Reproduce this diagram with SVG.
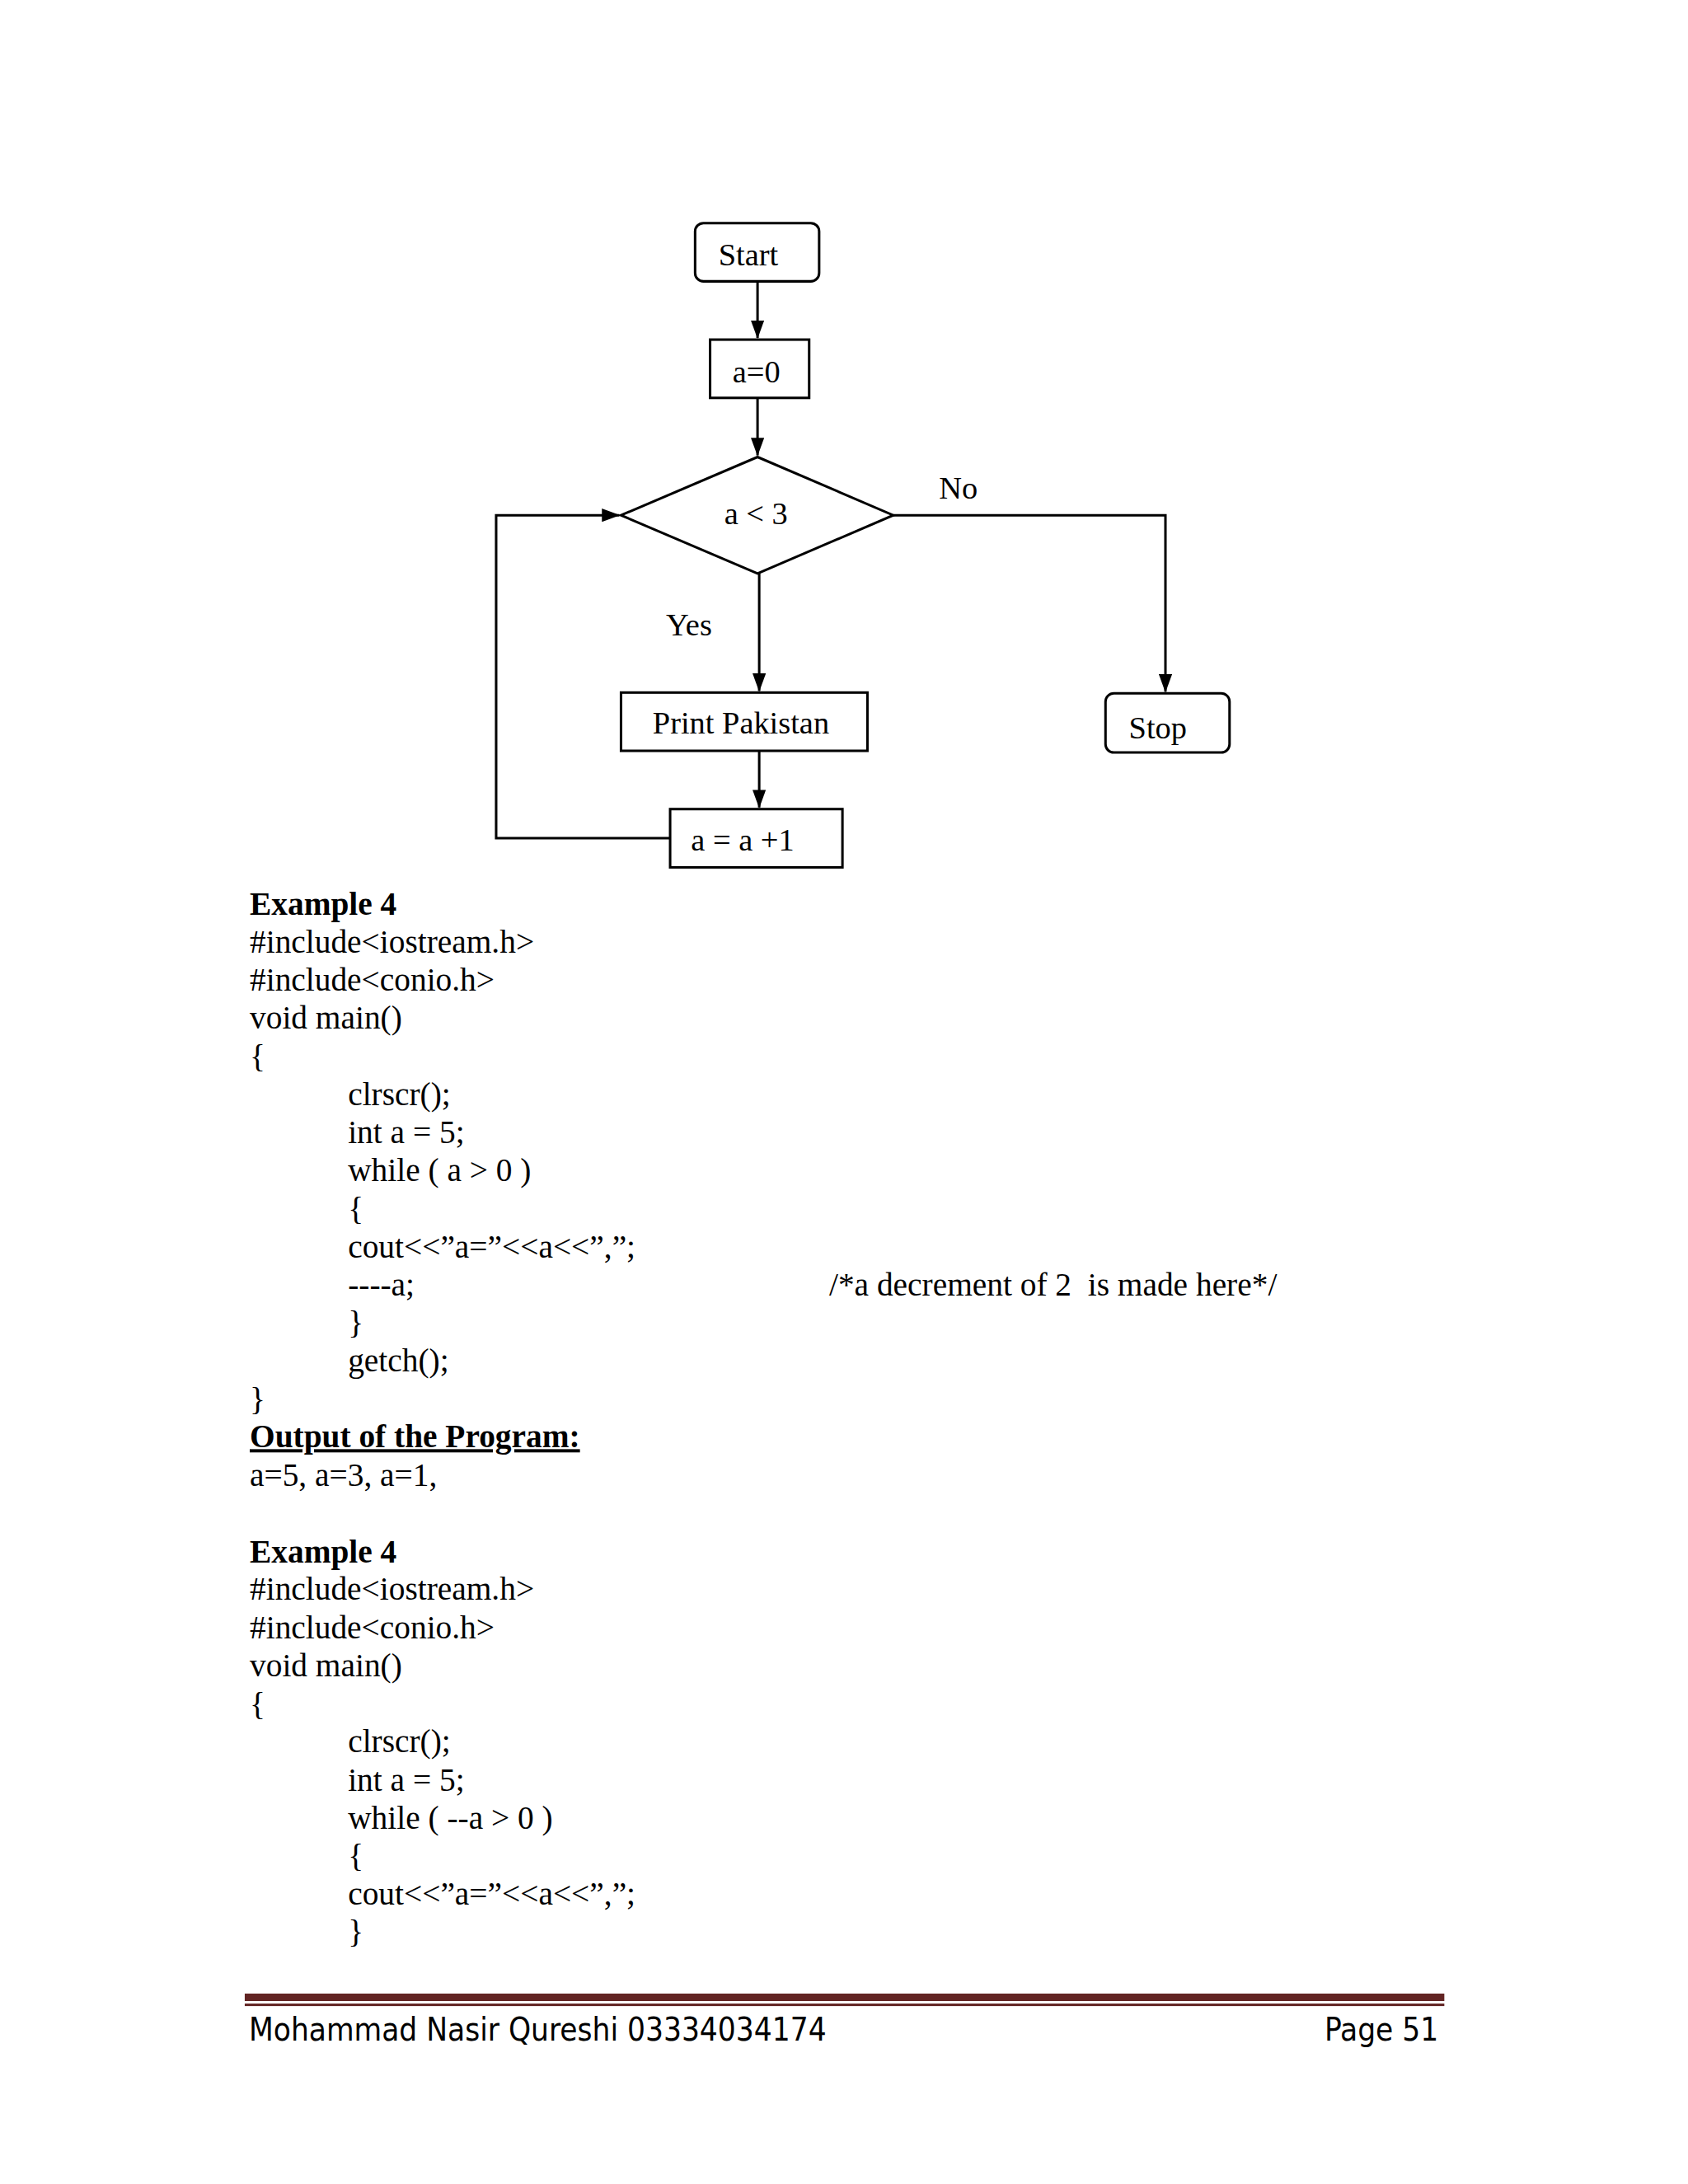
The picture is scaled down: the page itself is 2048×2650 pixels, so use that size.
<svg xmlns="http://www.w3.org/2000/svg" width="2048" height="2650" viewBox="0 0 2048 2650">
<style>
.n{fill:#fff;stroke:#000;stroke-width:3}
.t{font-family:"Liberation Serif",serif;font-size:38px;fill:#000}
.c{font-family:"Liberation Serif",serif;font-size:39px;fill:#000}
.b{font-weight:bold}
.f{font-family:"Liberation Sans Narrow","DejaVu Sans Condensed","Liberation Sans",sans-serif;font-size:38px;fill:#000}
.e{fill:none;stroke:#000;stroke-width:3}
</style>
<defs><marker id="ar" markerWidth="22" markerHeight="16" refX="21" refY="8" orient="auto" markerUnits="userSpaceOnUse" viewBox="0 0 22 16"><path d="M0,0L22,8L0,16z"/></marker></defs>
<rect width="2048" height="2650" fill="#fff"/>
<g transform="scale(1.01)">
<g id="connectors">
<path class="e" d="M910,338V406" marker-end="url(#ar)"/>
<path class="e" d="M910,478V547" marker-end="url(#ar)"/>
<path class="e" d="M912,689V830" marker-end="url(#ar)"/>
<path class="e" d="M912,902V970" marker-end="url(#ar)"/>
<path class="e" d="M1073,619H1400V831" marker-end="url(#ar)"/>
<path class="e" d="M805,1007H596V619H744" marker-end="url(#ar)"/>
</g>
<g id="start"><rect class="n" x="835" y="268" width="149" height="70" rx="10"/><text class="t" x="863" y="319">Start</text></g>
<g id="init"><rect class="n" x="853" y="408" width="119" height="70"/><text class="t" x="880" y="459">a=0</text></g>
<g id="cond"><polygon class="n" points="746,619 910,549 1073,619 910,689"/><text class="t" x="870" y="630">a &lt; 3</text></g>
<g id="print"><rect class="n" x="746" y="832" width="296" height="70"/><text class="t" x="784" y="881">Print Pakistan</text></g>
<g id="inc"><rect class="n" x="805" y="972" width="207" height="70"/><text class="t" x="830" y="1022">a = a +1</text></g>
<g id="stop"><rect class="n" x="1328" y="833" width="149" height="71" rx="10"/><text class="t" x="1356" y="887">Stop</text></g>
<text class="t" x="1128" y="599">No</text>
<text class="t" x="800" y="763">Yes</text>
<g id="code">
<text class="c b" x="300" y="1099">Example 4</text>
<text class="c" x="300" y="1145">#include&lt;iostream.h&gt;</text>
<text class="c" x="300" y="1190">#include&lt;conio.h&gt;</text>
<text class="c" x="300" y="1236">void main()</text>
<text class="c" x="300" y="1282">{</text>
<text class="c" x="418" y="1328">clrscr();</text>
<text class="c" x="418" y="1373">int a = 5;</text>
<text class="c" x="418" y="1419">while ( a &gt; 0 )</text>
<text class="c" x="418" y="1465">{</text>
<text class="c" x="418" y="1511">cout&lt;&lt;”a=”&lt;&lt;a&lt;&lt;”,”;</text>
<text class="c" x="418" y="1556">----a;</text>
<text class="c" x="996" y="1556" xml:space="preserve">/*a decrement of 2  is made here*/</text>
<text class="c" x="418" y="1602">}</text>
<text class="c" x="418" y="1648">getch();</text>
<text class="c" x="300" y="1694">}</text>
<text class="c b" x="300" y="1739" text-decoration="underline">Output of the Program:</text>
<text class="c" x="300" y="1785">a=5, a=3, a=1,</text>
<text class="c b" x="300" y="1877">Example 4</text>
<text class="c" x="300" y="1922">#include&lt;iostream.h&gt;</text>
<text class="c" x="300" y="1968">#include&lt;conio.h&gt;</text>
<text class="c" x="300" y="2014">void main()</text>
<text class="c" x="300" y="2060">{</text>
<text class="c" x="418" y="2105">clrscr();</text>
<text class="c" x="418" y="2151">int a = 5;</text>
<text class="c" x="418" y="2197">while ( --a &gt; 0 )</text>
<text class="c" x="418" y="2243">{</text>
<text class="c" x="418" y="2288">cout&lt;&lt;”a=”&lt;&lt;a&lt;&lt;”,”;</text>
<text class="c" x="418" y="2334">}</text>
</g>
<g id="footer">
<rect x="294" y="2395" width="1441" height="9" fill="#622423"/>
<rect x="294" y="2407" width="1441" height="3" fill="#622423"/>
<text class="f" x="299" y="2451">Mohammad Nasir Qureshi 03334034174</text>
<text class="f" x="1728" y="2451" text-anchor="end">Page 51</text>
</g>
</g>
</svg>
